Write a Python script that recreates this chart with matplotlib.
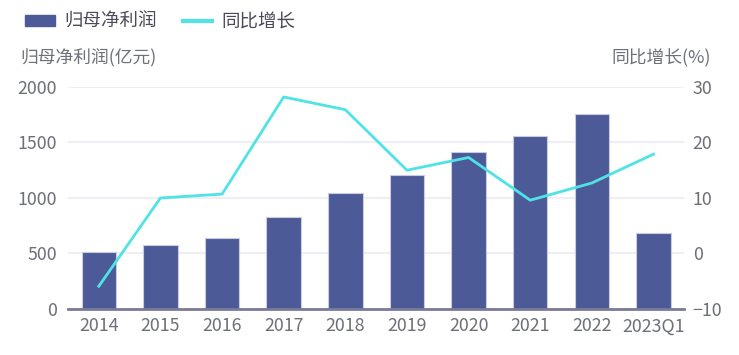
import matplotlib.pyplot as plt
from matplotlib.lines import Line2D
from matplotlib.patches import Patch

plt.rcParams['font.family'] = ['Noto Sans CJK SC', 'DejaVu Sans']

# Data
years = ['2014', '2015', '2016', '2017', '2018', '2019', '2020', '2021', '2022', '2023Q1']
profit = [513, 576, 640, 829, 1045, 1207, 1414, 1559, 1757, 685]      # 归母净利润 (亿元)
growth = [-5.9, 10.0, 10.7, 28.2, 25.9, 15.0, 17.3, 9.6, 12.7, 17.9]  # 同比增长 (%)

bar_color = '#4c5a98'
line_color = '#4fe3e6'
text_color = '#6e7079'
grid_color = '#eeeef5'

fig = plt.figure(figsize=(7.39, 3.55), dpi=100)
ax = fig.add_axes([0.092, 0.1296, 0.834, 0.6254])
ax2 = ax.twinx()

x = range(len(years))
ax.bar(x, profit, width=0.56, color=bar_color, edgecolor='#c9cce0', linewidth=0.8, zorder=2)
ax2.plot(x, growth, color=line_color, linewidth=2, zorder=3)

ax.set_xlim(-0.5, len(years) - 0.5)
ax.set_ylim(0, 2000)
ax.set_yticks([0, 500, 1000, 1500, 2000])
ax2.set_ylim(-10, 30)
ax2.set_yticks([-10, 0, 10, 20, 30])

ax.set_xticks(list(x))
ax.set_xticklabels(years)
ax.yaxis.grid(True, color=grid_color, linewidth=1.5, zorder=0)
ax.set_axisbelow(True)

for a in (ax, ax2):
    for s in a.spines.values():
        s.set_visible(False)
    a.tick_params(length=0, labelsize=12.8, labelcolor=text_color)
ax.spines['bottom'].set_visible(True)
ax.spines['bottom'].set_color('#7a7a9a')
ax.spines['bottom'].set_linewidth(2)
ax.tick_params(axis='x', pad=6)
ax.tick_params(axis='y', pad=8)
ax2.tick_params(axis='y', pad=6)

fig.text(20 / 739, 1 - 58 / 355, '归母净利润(亿元)', fontsize=12.8, color=text_color,
         ha='left', va='center')
fig.text(711 / 739, 1 - 58 / 355, '同比增长(%)', fontsize=12.8, color=text_color,
         ha='right', va='center')

handles = [Patch(facecolor=bar_color, edgecolor=bar_color),
           Line2D([0], [0], color=line_color, linewidth=3)]
fig.legend(handles, ['归母净利润', '同比增长'], loc='upper left',
           bbox_to_anchor=(0.012, 1.01), ncol=2, frameon=False, fontsize=13.3,
           labelcolor='#4a4a5a', handlelength=1.6, handleheight=0.6,
           columnspacing=1.4, handletextpad=0.5)

fig.savefig('out.png', dpi=100)
